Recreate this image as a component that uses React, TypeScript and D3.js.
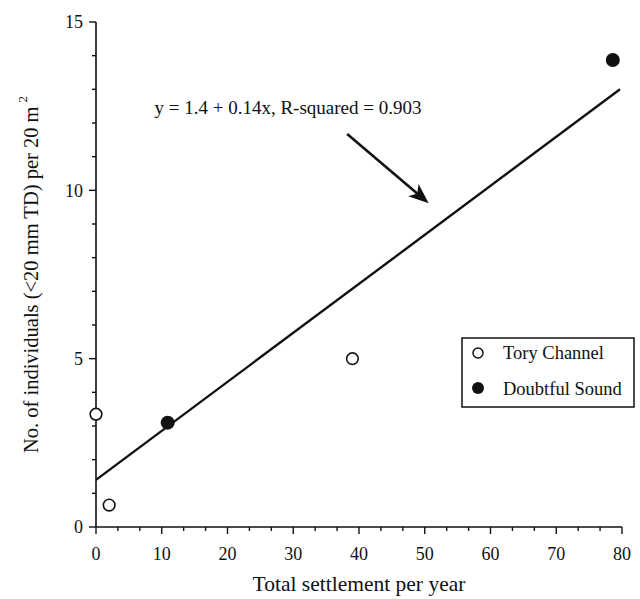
import React from "react";
import * as d3 from "d3";

// ---- data ----
const toryX = [0, 2, 39];
const toryY = [3.35, 0.65, 5.0];
const doubtfulX = [10.9, 78.6];
const doubtfulY = [3.1, 13.87];
const fitX = [0, 79.7];
const fitY = [1.4, 13.0];
const xTicks = [0, 10, 20, 30, 40, 50, 60, 70, 80];
const yTicks = [0, 5, 10, 15];
const equationText = "y = 1.4 + 0.14x, R-squared = 0.903";
const equationPos = [8.9, 12.27];
const arrowFrom = [38.2, 11.67];
const arrowTo = [50.6, 9.62];
const legendLabels = ["Tory Channel", "Doubtful Sound"];
const xTitle = "Total settlement per year";
const yTitle = "No. of individuals (<20 mm TD) per 20 m";

const W = 640;
const H = 599;
const FONT = "Liberation Serif, DejaVu Serif, serif";
const ts = { fontFamily: FONT };

export default function App() {
  const x = d3.scaleLinear().domain([0, 80]).range([96, 622]);
  const y = d3.scaleLinear().domain([0, 15]).range([527, 22]);

  const xMinor = d3.range(0, 80.001, 10 / 3);
  const yMinor = d3.range(0, 15.001, 1);

  const fitLine = d3
    .line<number>()
    .x((_, i) => x(fitX[i]))
    .y((_, i) => y(fitY[i]))(fitX);

  // arrow
  const ax0 = x(arrowFrom[0]);
  const ay0 = y(arrowFrom[1]);
  const ax1 = x(arrowTo[0]);
  const ay1 = y(arrowTo[1]);
  const dx = ax1 - ax0;
  const dy = ay1 - ay0;
  const len = Math.hypot(dx, dy);
  const ux = dx / len;
  const uy = dy / len;
  const px = -uy;
  const py = ux;
  const headLen = 20;
  const headW = 8;
  const notch = 5;
  const bx = ax1 - ux * headLen;
  const by = ay1 - uy * headLen;
  const head = [
    [ax1, ay1],
    [bx + px * headW, by + py * headW],
    [ax1 - ux * (headLen - notch), ay1 - uy * (headLen - notch)],
    [bx - px * headW, by - py * headW],
  ];

  const axisY = y(0);
  const axisX = x(0);

  return (
    <div style={{ position: "absolute", left: 0, top: 0 }}>
      <svg width={W} height={H} style={{ display: "block", background: "#fff", fontFamily: FONT }}>
        <rect x={0} y={0} width={W} height={H} fill="#fff" />
        {/* axes lines */}
        <line x1={axisX} x2={axisX} y1={y(15)} y2={axisY} stroke="#111" strokeWidth={1.6} />
        <line x1={axisX} x2={x(80)} y1={axisY} y2={axisY} stroke="#111" strokeWidth={1.6} />
        {/* y ticks */}
        {yMinor.map((v, i) => (
          <line key={"ym" + i} x1={axisX - (v % 5 === 0 ? 7 : 4)} x2={axisX} y1={y(v)} y2={y(v)} stroke="#111" strokeWidth={1.4} />
        ))}
        {/* x ticks */}
        {xMinor.map((v, i) => (
          <line key={"xm" + i} x1={x(v)} x2={x(v)} y1={axisY} y2={axisY + (i % 3 === 0 ? 7 : 4)} stroke="#111" strokeWidth={1.4} />
        ))}
        {/* tick labels */}
        {yTicks.map((v) => (
          <text key={"yl" + v} x={axisX - 13} y={y(v)} dy="0.35em" textAnchor="end" fontSize={18} fill="#111" style={ts}>
            {v}
          </text>
        ))}
        {xTicks.map((v) => (
          <text key={"xl" + v} x={x(v)} y={560} textAnchor="middle" fontSize={18} fill="#111" style={ts}>
            {v}
          </text>
        ))}
        {/* axis titles */}
        <text x={(x(0) + x(80)) / 2} y={591} textAnchor="middle" fontSize={21.5} fill="#111" style={ts}>
          {xTitle}
        </text>
        <text transform={`translate(38, ${(y(0) + y(15)) / 2}) rotate(-90)`} textAnchor="middle" fontSize={20.5} fill="#111" style={ts}>
          {yTitle}
          <tspan fontSize={13} dy={-11} dx={4}>2</tspan>
        </text>
        {/* fit line */}
        <path d={fitLine || ""} fill="none" stroke="#111" strokeWidth={2.4} />
        {/* points */}
        {toryX.map((v, i) => (
          <circle key={"t" + i} cx={x(v)} cy={y(toryY[i])} r={5.8} fill="#fff" stroke="#111" strokeWidth={1.6} />
        ))}
        {doubtfulX.map((v, i) => (
          <circle key={"d" + i} cx={x(v)} cy={y(doubtfulY[i])} r={7} fill="#111" />
        ))}
        {/* equation */}
        <text x={x(equationPos[0])} y={y(equationPos[1])} fontSize={19} fill="#111" style={ts}>
          {equationText}
        </text>
        {/* arrow */}
        <line x1={ax0} y1={ay0} x2={ax1 - ux * 10} y2={ay1 - uy * 10} stroke="#111" strokeWidth={2.6} />
        <polygon points={head.map((p) => p.join(",")).join(" ")} fill="#111" />
        {/* legend */}
        <rect x={462} y={338} width={172} height={69} fill="#fff" stroke="#111" strokeWidth={1.5} />
        <circle cx={478} cy={353} r={5} fill="#fff" stroke="#111" strokeWidth={1.5} />
        <circle cx={478} cy={388} r={6} fill="#111" />
        <text x={503} y={359} fontSize={18.5} fill="#111" style={ts}>{legendLabels[0]}</text>
        <text x={503} y={395} fontSize={18.5} fill="#111" style={ts}>{legendLabels[1]}</text>
      </svg>
    </div>
  );
}
